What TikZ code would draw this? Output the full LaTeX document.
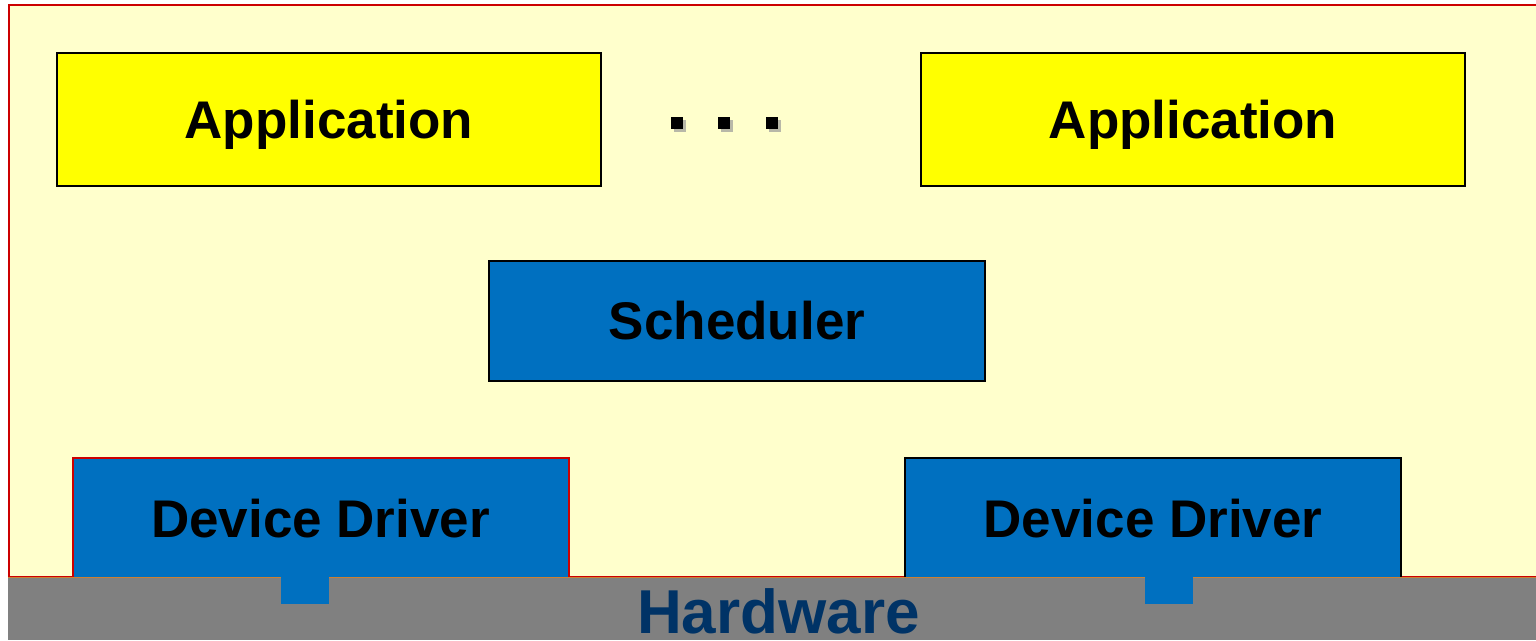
\documentclass[tikz,border=0pt]{standalone}
\usepackage{fontspec}
\setmainfont{Liberation Sans}
\definecolor{bgyellow}{HTML}{FFFFCC}
\definecolor{appyellow}{HTML}{FFFF00}
\definecolor{boxblue}{HTML}{0070C0}
\definecolor{hwgray}{HTML}{808080}
\definecolor{hwtext}{HTML}{003366}
\definecolor{framered}{HTML}{CC0000}
\definecolor{shadowgray}{HTML}{B8B8A8}
\begin{document}
\begin{tikzpicture}[x=1pt,y=-1pt,
  lbl/.style={font=\fontsize{53}{60}\selectfont\bfseries, text height=37.9pt, text depth=0pt, inner sep=0pt},
  appbox/.style={lbl, draw=black, line width=2pt, fill=appyellow, minimum width=544pt, minimum height=133pt},
  bluebox/.style={lbl, draw=black, line width=2pt, fill=boxblue, minimum width=496pt, minimum height=120pt},
  tab/.style={fill=boxblue, draw=none, minimum width=48pt, minimum height=27pt, inner sep=0pt},
  dot/.style={fill=black, minimum size=12pt, inner sep=0pt},
  dotshadow/.style={fill=shadowgray, minimum size=12pt, inner sep=0pt}
]
\useasboundingbox (0,0) rectangle (1536,640);
\fill[white] (0,0) rectangle (1536,640);
% outer frame
\draw[framered, line width=2pt, fill=bgyellow] (9,5) rectangle (1540,577);
% applications
\node[appbox] (app1) at (329,119.5) {Application};
\node[appbox] (app2) at (1193,119.5) {Application};
% dots
\foreach \i/\xx in {1/677,2/724,3/772} {
  \node[dotshadow] (ds\i) at (\xx+3,126) {};
  \node[dot] (d\i) at (\xx,123) {};
}
% scheduler
\node[bluebox] (sched) at (737,321) {Scheduler};
% device drivers
\node[bluebox, draw=framered, minimum height=122pt] (dd1) at (320.5,519) {Device Driver};
\node[bluebox, minimum height=122pt] (dd2) at (1153,519) {Device Driver};
% hardware bar
\fill[hwgray] (8,577) rectangle (1536,640);
\draw[color=orange!60!hwgray, line width=0.8pt] (8,577) -- (1536,577);
\node[tab] (tab1) at (305,590.5) {};
\node[tab] (tab2) at (1169,590.5) {};
\node[font=\fontsize{62}{70}\selectfont\bfseries, text=hwtext, anchor=base, inner sep=0pt] (hw) at (778.5,633) {Hardware};
\end{tikzpicture}
\end{document}
